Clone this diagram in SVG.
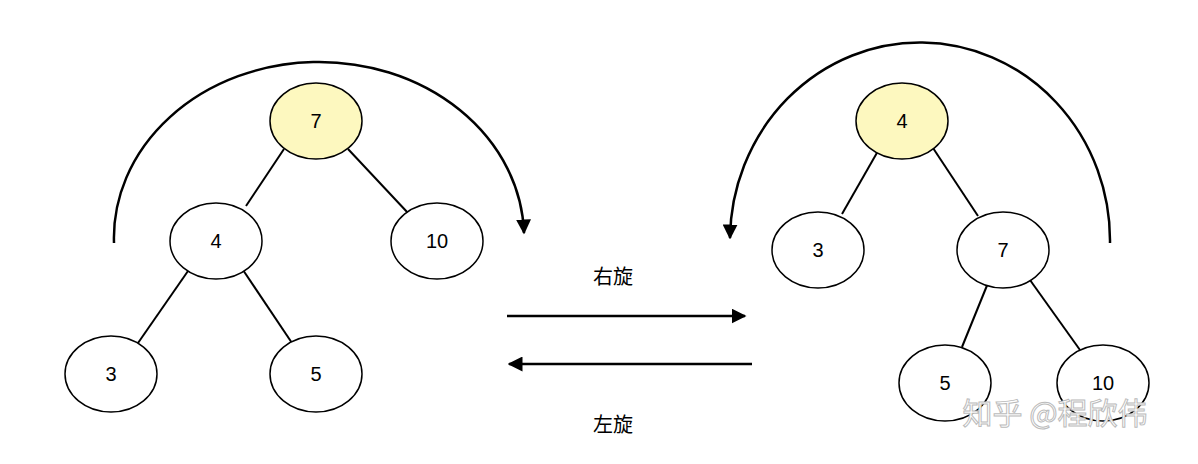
<svg xmlns="http://www.w3.org/2000/svg" width="1198" height="464" viewBox="0 0 1198 464">
<defs>
<style>
.n{fill:#fff;stroke:#000;stroke-width:1.5}
.h{fill:#fdf8bf}
.t{font-family:"Liberation Sans",Arial,sans-serif;font-size:20px;text-anchor:middle;dominant-baseline:central}
.c{font-family:"Noto Sans CJK SC",sans-serif;font-size:20px;text-anchor:middle}
.e{stroke:#000;stroke-width:2;fill:none}
.a{stroke:#000;stroke-width:2.5;fill:none;marker-end:url(#m)}
</style>
<marker id="m" viewBox="0 0 10 10" refX="9" refY="5" markerWidth="6" markerHeight="6" markerUnits="strokeWidth" orient="auto"><path d="M0,0 L10,5 L0,10 z" fill="#000"/></marker>
</defs>
<rect width="1198" height="464" fill="#fff"/>
<g id="connectors">
<line class="e" x1="284" y1="149" x2="246" y2="206"/>
<line class="e" x1="348" y1="149" x2="408" y2="213"/>
<line class="e" x1="188" y1="271" x2="138" y2="343"/>
<line class="e" x1="243" y1="270" x2="292" y2="343"/>
<line class="e" x1="878" y1="151" x2="842" y2="214"/>
<line class="e" x1="933" y1="148" x2="978" y2="216"/>
<line class="e" x1="988" y1="283" x2="962" y2="347"/>
<line class="e" x1="1030" y1="280" x2="1080" y2="350"/>
<path class="a" d="M114,243 A205 176 0 0 1 524,233"/>
<path class="a" d="M1110,243 A190 198 0 0 0 730,238"/>
<line class="a" x1="507" y1="316" x2="745" y2="316"/>
<line class="a" x1="752" y1="364" x2="509" y2="364"/>
</g>
<g id="l7"><ellipse class="n h" cx="316" cy="121" rx="46" ry="38"/><text class="t" x="316" y="121">7</text></g>
<g id="l4"><ellipse class="n" cx="216" cy="241" rx="46" ry="38"/><text class="t" x="216" y="241">4</text></g>
<g id="l10"><ellipse class="n" cx="437" cy="241" rx="46" ry="38"/><text class="t" x="437" y="241">10</text></g>
<g id="l3"><ellipse class="n" cx="111" cy="374" rx="46" ry="38"/><text class="t" x="111" y="374">3</text></g>
<g id="l5"><ellipse class="n" cx="316" cy="374" rx="46" ry="38"/><text class="t" x="316" y="374">5</text></g>
<g id="r4"><ellipse class="n h" cx="902" cy="121" rx="46" ry="38"/><text class="t" x="902" y="121">4</text></g>
<g id="r3"><ellipse class="n" cx="818" cy="250" rx="46" ry="38"/><text class="t" x="818" y="250">3</text></g>
<g id="r7"><ellipse class="n" cx="1003" cy="250" rx="46" ry="38"/><text class="t" x="1003" y="250">7</text></g>
<g id="r5"><ellipse class="n" cx="945" cy="383" rx="46" ry="38"/><text class="t" x="945" y="383">5</text></g>
<g id="r10"><ellipse class="n" cx="1103" cy="383" rx="46" ry="38"/><text class="t" x="1103" y="383">10</text></g>
<text class="c" x="613" y="284">右旋</text>
<text class="c" x="613" y="432">左旋</text>
<text x="1055" y="424" font-family="Noto Sans CJK SC,sans-serif" font-size="30" text-anchor="middle" fill="#fff" stroke="#bbb" stroke-width="1">知乎 @程欣伟</text>
</svg>
